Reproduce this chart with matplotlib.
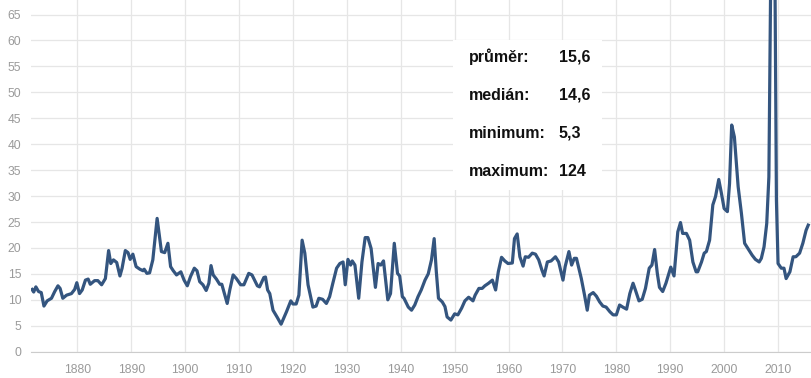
import matplotlib
matplotlib.use('Agg')
import matplotlib.pyplot as plt
from matplotlib.patches import Rectangle

# P/E values (year, value)
years = [
    1871.6, 1871.9, 1872.3, 1872.8, 1873.3, 1873.8, 1874.4, 1875.2, 1875.8, 1876.4,
    1876.8, 1877.3, 1878.0, 1878.9, 1879.5, 1879.9, 1880.4, 1880.9, 1881.5, 1882.0,
    1882.4, 1883.2, 1883.8, 1884.5, 1885.2, 1885.8, 1886.2, 1886.7, 1887.3, 1887.9,
    1888.3, 1888.9, 1889.4, 1889.8, 1890.3, 1890.9, 1891.6, 1892.2, 1892.4, 1892.9,
    1893.4, 1894.0, 1894.8, 1895.6, 1896.2, 1896.8, 1897.3, 1897.8, 1898.4, 1899.2,
    1899.8, 1900.4, 1901.0, 1901.7, 1902.2, 1902.7, 1903.3, 1903.9, 1904.4, 1904.8,
    1905.2, 1905.8, 1906.4, 1906.8, 1907.8, 1908.3, 1908.9, 1909.5, 1910.3, 1910.9,
    1911.8, 1912.4, 1913.4, 1913.8, 1914.6, 1914.9, 1915.3, 1915.7, 1916.3, 1917.1,
    1917.8, 1918.8, 1919.6, 1920.0, 1920.6, 1921.1, 1921.7, 1922.2, 1922.8, 1923.7,
    1924.3, 1924.8, 1925.5, 1926.2, 1926.8, 1927.4, 1928.1, 1928.7, 1929.3, 1929.7,
    1930.2, 1930.7, 1931.0, 1931.5, 1932.2, 1932.8, 1933.4, 1933.9, 1934.5, 1935.3,
    1935.8, 1936.3, 1936.8, 1937.6, 1938.1, 1938.8, 1939.4, 1939.8, 1940.3, 1940.6,
    1941.4, 1942.0, 1942.6, 1943.2, 1943.8, 1944.5, 1945.1, 1945.7, 1946.2, 1946.6,
    1947.0, 1947.7, 1948.2, 1948.6, 1949.3, 1950.0, 1950.6, 1951.3, 1951.9, 1952.6,
    1953.4, 1953.8, 1954.5, 1955.1, 1955.6, 1956.3, 1957.0, 1957.6, 1958.1, 1958.7,
    1959.3, 1959.9, 1960.7, 1961.1, 1961.6, 1962.1, 1962.7, 1963.1, 1963.7, 1964.4,
    1965.0, 1965.6, 1966.2, 1966.6, 1967.2, 1967.9, 1968.7, 1969.3, 1970.1, 1970.5,
    1971.2, 1971.7, 1972.2, 1972.6, 1973.5, 1974.1, 1974.6, 1975.0, 1975.7, 1976.3,
    1976.9, 1977.5, 1978.1, 1978.8, 1979.4, 1980.0, 1980.6, 1981.2, 1981.9, 1982.5,
    1983.1, 1983.5, 1984.2, 1984.8, 1985.4, 1986.1, 1986.6, 1987.1, 1987.6, 1988.0,
    1988.6, 1989.2, 1990.1, 1990.7, 1991.4, 1991.9, 1992.3, 1993.0, 1993.6, 1994.2,
    1994.8, 1995.1, 1995.8, 1996.3, 1996.7, 1997.3, 1997.9, 1998.4, 1999.0, 1999.5,
    2000.0, 2000.6, 2001.0, 2001.4, 2001.9, 2002.6, 2003.2, 2003.8, 2004.4, 2005.2,
    2005.8, 2006.5, 2006.9, 2007.4, 2007.9, 2008.3, 2009.1, 2009.7, 2010.0, 2010.6,
    2011.1, 2011.5, 2012.2, 2012.8, 2013.3, 2014.0, 2014.6, 2015.2, 2015.6,
]
pe = [
    12.0, 11.5, 12.5, 11.6, 11.4, 8.8, 9.8, 10.3, 11.6, 12.7,
    12.2, 10.3, 10.9, 11.2, 12.0, 13.3, 11.2, 11.9, 13.8, 14.0,
    13.0, 13.7, 13.7, 12.9, 14.1, 19.5, 17.0, 17.7, 17.2, 14.6,
    16.1, 19.5, 19.1, 17.8, 18.8, 16.4, 15.9, 15.6, 15.9, 15.1,
    15.2, 17.7, 25.7, 19.3, 19.1, 20.9, 16.4, 15.6, 14.8, 15.4,
    13.8, 12.7, 14.5, 16.1, 15.6, 13.5, 12.9, 11.8, 13.2, 16.6,
    14.8, 14.0, 13.0, 13.0, 9.3, 12.0, 14.8, 14.1, 12.9, 12.9,
    15.1, 14.8, 12.7, 12.5, 14.3, 14.4, 11.9, 11.2, 8.0, 6.6,
    5.3, 7.7, 9.8, 9.2, 9.2, 10.9, 21.5, 19.0, 12.9, 8.6,
    8.8, 10.3, 10.1, 9.3, 10.6, 13.2, 16.1, 17.0, 17.3, 12.9,
    17.8, 16.7, 17.5, 16.7, 10.3, 17.3, 22.0, 22.0, 19.9, 12.4,
    17.0, 16.7, 17.5, 10.0, 11.2, 20.9, 15.1, 14.6, 10.6, 10.3,
    8.6, 8.0, 9.0, 10.6, 11.9, 13.8, 15.0, 17.7, 21.8, 15.4,
    10.3, 9.6, 8.7, 6.7, 6.1, 7.3, 7.1, 8.4, 9.8, 10.5,
    9.8, 10.9, 12.2, 12.2, 12.7, 13.2, 13.8, 11.9, 15.4, 18.2,
    17.5, 17.0, 17.1, 21.8, 22.7, 18.3, 16.5, 18.3, 18.2, 19.0,
    18.8, 17.7, 15.7, 14.6, 17.3, 17.5, 18.3, 17.3, 13.8, 16.4,
    19.3, 16.7, 18.0, 18.0, 14.1, 10.9, 8.0, 10.9, 11.4, 10.7,
    9.6, 8.8, 8.6, 7.7, 7.1, 7.1, 9.0, 8.6, 8.2, 11.2,
    13.2, 12.0, 9.8, 10.1, 12.2, 16.1, 16.7, 19.7, 15.1, 12.4,
    11.6, 13.2, 16.3, 14.6, 23.1, 24.9, 22.8, 22.8, 21.5, 17.3,
    15.4, 15.4, 17.3, 19.0, 19.3, 21.5, 28.3, 29.9, 33.2, 30.5,
    27.6, 27.0, 32.4, 43.7, 41.4, 31.8, 26.7, 20.9, 19.9, 18.6,
    17.8, 17.3, 18.0, 20.2, 24.7, 33.7, 124.0, 29.2, 17.0, 16.1,
    16.1, 14.1, 15.4, 18.3, 18.3, 19.0, 20.9, 23.4, 24.4,
]

x_ticks = list(range(1880, 2011, 10))
y_ticks = list(range(0, 66, 5))

stat_labels = ['průměr:', 'medián:', 'minimum:', 'maximum:']
stat_values = ['15,6', '14,6', '5,3', '124']

W, H = 812, 378
plt.rcParams['font.family'] = ['Liberation Sans', 'DejaVu Sans']

fig = plt.figure(figsize=(W / 100, H / 100), dpi=100)
ax = fig.add_axes([31 / W, (H - 351.7) / H, (W - 31) / W, 351.7 / H])

ax.plot(years, pe, color='#34557f', lw=2.3, solid_joinstyle='round', zorder=3)

ax.set_xlim(1871.4, 2016.3)
ax.set_ylim(0, 67.8)
ax.set_xticks(x_ticks)
ax.set_yticks(y_ticks)
ax.tick_params(length=0, labelsize=8.7, labelcolor='#9a9a9a')
ax.tick_params(axis='x', pad=9)
ax.tick_params(axis='y', pad=7)
ax.grid(True, color='#e6e6e6', lw=0.9)
ax.set_axisbelow(True)
for side in ['top', 'right', 'left']:
    ax.spines[side].set_visible(False)
ax.spines['bottom'].set_color('#cccccc')

# white box with summary stats
fig.patches.append(Rectangle((453 / W, (H - 190) / H), 149 / W, 150 / H,
                             transform=fig.transFigure, facecolor='white',
                             edgecolor='none', zorder=2))
for i, (lab, val) in enumerate(zip(stat_labels, stat_values)):
    yc = (H - (56.7 + i * 38.3)) / H
    fig.text(469 / W, yc, lab, fontsize=11.5, fontweight='bold', color='#111111',
             va='center', ha='left', zorder=4)
    fig.text(559 / W, yc, val, fontsize=11.5, fontweight='bold', color='#111111',
             va='center', ha='left', zorder=4)

fig.savefig('out.png', dpi=100)
